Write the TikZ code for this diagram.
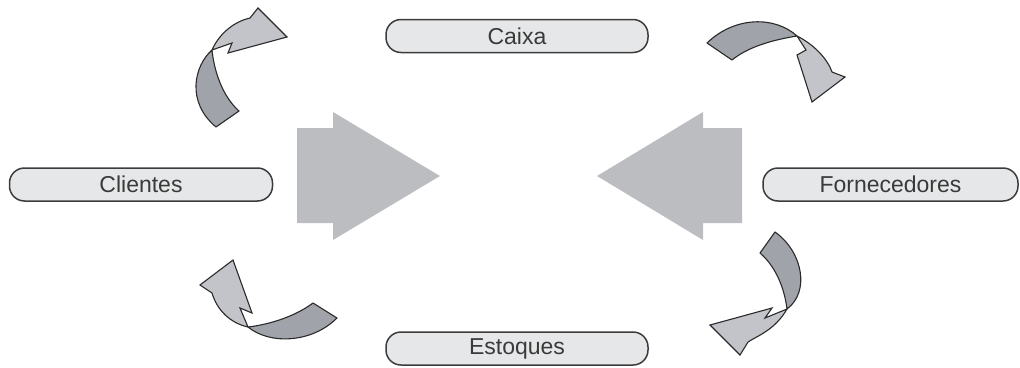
\documentclass[tikz,border=0pt]{standalone}
\usepackage{fontspec}
\setmainfont{Liberation Sans}
\definecolor{boxfill}{HTML}{E6E7E8}
\definecolor{boxline}{HTML}{3C3C3C}
\definecolor{txt}{HTML}{3A3A3A}
\definecolor{bigarrow}{HTML}{BCBDC0}
\definecolor{ribdark}{HTML}{A0A3A9}
\definecolor{riblight}{HTML}{C2C4C9}
\definecolor{ribline}{HTML}{2A2A2A}
\begin{document}
\begin{tikzpicture}[x=1pt,y=-1pt,
  pill/.style={draw=boxline,fill=boxfill,line width=1.5pt,rounded corners=15pt,
    minimum height=33pt,inner sep=0pt,text=txt,font=\fontsize{23}{23}\selectfont},
  bigarr/.style={fill=bigarrow,draw=none},
  darkrib/.style={fill=ribdark,draw=ribline,line width=1.1pt,line join=round},
  lightrib/.style={fill=riblight,draw=ribline,line width=1.1pt,line join=miter}]
\useasboundingbox (0,0) rectangle (1020,367);
% nodes
\node[pill,minimum width=262pt] (caixa) at (517,36) {Caixa};
\node[pill,minimum width=263pt] (clientes) at (141,184.5) {Clientes};
\node[pill,minimum width=255pt] (fornec) at (890.5,184.5) {Fornecedores};
\node[pill,minimum width=262pt] (estoques) at (517,348.5) {Estoques};
% big arrows
\fill[bigarr] (297,128) -- (333,128) -- (333,112) -- (440,176) -- (333,240) -- (333,223) -- (297,223) -- cycle;
\fill[bigarr] (742,128) -- (703,128) -- (703,112) -- (597,176) -- (703,240) -- (703,223) -- (742,223) -- cycle;
% top-left curved arrow
\draw[darkrib] (212,50) .. controls (194,66) and (186,102) .. (216,127) -- (239,111)
  .. controls (222,96) and (214,70) .. (212,50) -- cycle;
\draw[lightrib] (212,50) .. controls (220,32) and (236,21) .. (250,18) -- (258,8) -- (287,37)
  -- (228,53) -- (232,43) -- cycle;
% top-right curved arrow
\draw[darkrib] (707,43) .. controls (735,16) and (775,16) .. (797,36)
  .. controls (772,40) and (748,47) .. (732,60) -- cycle;
\draw[lightrib] (797,36) .. controls (815,45) and (828,60) .. (832,72) -- (845,77) -- (812,102)
  -- (797,55) -- (806,50) -- cycle;
% bottom-left curved arrow
\draw[darkrib] (248,327) .. controls (270,345) and (312,343) .. (337,318) -- (313,303)
  .. controls (297,315) and (273,324) .. (248,327) -- cycle;
\draw[lightrib] (248,327) .. controls (230,323) and (217,310) .. (212,293) -- (200,285) -- (233,260)
  -- (252,313) -- (240,308) -- cycle;
% bottom-right curved arrow
\draw[darkrib] (775,232) .. controls (803,252) and (810,292) .. (787,309)
  .. controls (784,285) and (774,265) .. (760,253) -- cycle;
\draw[lightrib] (787,309) .. controls (775,330) and (757,336) .. (748,342) -- (740,355) -- (710,325)
  -- (772,308) -- (765,318) -- cycle;
\end{tikzpicture}
\end{document}
